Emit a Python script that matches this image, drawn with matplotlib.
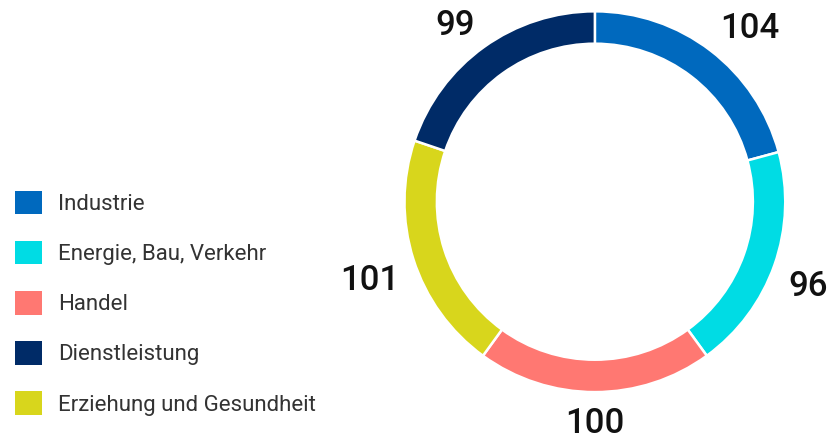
import matplotlib.pyplot as plt

# data, in clockwise order from 12 o'clock
sectors = ['Industrie', 'Energie, Bau, Verkehr', 'Handel', 'Erziehung und Gesundheit', 'Dienstleistung']
values = [104, 96, 100, 101, 99]
colors = ['#0069BE', '#00DCE4', '#FF7872', '#D8D61C', '#002B67']
legend_order = ['Industrie', 'Energie, Bau, Verkehr', 'Handel', 'Dienstleistung', 'Erziehung und Gesundheit']

plt.rcParams['font.family'] = ['Roboto', 'DejaVu Sans']

fig = plt.figure(figsize=(8.31, 4.41), dpi=100)
ax = fig.add_axes([0.418, -0.0186, 0.5957, 1.1224])

wedges, texts = ax.pie(values, labels=[str(v) for v in values], colors=colors,
                       startangle=90, counterclock=False, labeldistance=1.08,
                       wedgeprops=dict(width=0.17, edgecolor='white', linewidth=1.8),
                       textprops=dict(fontsize=25, fontweight='medium', color='#111111'))
# labels sit outside the ring, aligned away from it
for t in texts:
    x, y = t.get_position()
    t.set_horizontalalignment('left' if x > 0.05 else ('right' if x < -0.05 else 'center'))
    t.set_verticalalignment('baseline' if y > 0 else 'top')
ax.set_xlim(-1.3, 1.3)
ax.set_ylim(-1.3, 1.3)
ax.set_aspect('equal')
ax.axis('off')

handles = [wedges[sectors.index(s)] for s in legend_order]
leg = fig.legend(handles, legend_order, loc='upper left', bbox_to_anchor=(0.018, 0.566),
                 frameon=False, fontsize=16, handlelength=1.22, handleheight=1.22,
                 labelspacing=1.17, handletextpad=0.72, borderpad=0, borderaxespad=0)
for txt in leg.get_texts():
    txt.set_color('#333333')
for h in leg.legend_handles:
    h.set_edgecolor('none')

fig.savefig('out.png', dpi=100)
